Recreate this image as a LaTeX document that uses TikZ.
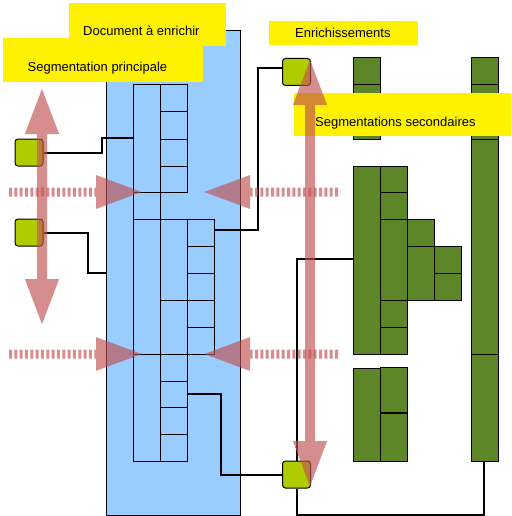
\documentclass[tikz,border=0pt]{standalone}
\usepackage{fontspec}
\setmainfont{Liberation Sans}
\usetikzlibrary{arrows.meta}
\definecolor{docblue}{RGB}{153,204,255}
\definecolor{enrgreen}{RGB}{92,134,40}
\definecolor{handlegreen}{RGB}{176,204,0}
\definecolor{segpink}{RGB}{192,80,80}
\tikzset{seghead/.tip={Triangle[length=47pt,width=31pt]}}

\begin{document}
\begin{tikzpicture}[x=1pt,y=-1pt,
    lbl/.style={fill=yellow,anchor=north west,inner sep=0pt},
    txt/.style={anchor=base west,inner sep=0pt,font=\fontsize{13}{15}\selectfont},
    segarrow/.style={draw=segpink,line width=10pt},
    segdash/.style={draw=segpink,line width=9pt,dash pattern=on 3pt off 2.33pt}]
    \useasboundingbox (0,0) rectangle (511,516);
    % document
    \draw[fill=docblue,line width=1pt] (106,31) rectangle (240,515);
    \begin{scope}[line width=1pt]
    \draw (133,85) rectangle (160,461) (133,192) -- (160,192) (133,219) -- (160,219) (133,354) -- (160,354);
    \draw (160,85) rectangle (187,192) (160,112) -- (187,112) (160,139) -- (187,139) (160,166) -- (187,166);
    \draw (160,219) rectangle (187,461) (160,300) -- (187,300) (160,354) -- (187,354) (160,381) -- (187,381) (160,407) -- (187,407) (160,434) -- (187,434);
    \draw (187,219) rectangle (214,354) (187,246) -- (214,246) (187,273) -- (214,273) (187,300) -- (214,300) (187,327) -- (214,327);
    \end{scope}
    % labels
    \node[lbl,minimum width=157pt,minimum height=43pt] (docbox) at (69,3) {};
    \node[txt] (doc) at (83,36) {Document à enrichir};
    \node[lbl,minimum width=200pt,minimum height=44pt] (segbox) at (3,38) {};
    \node[txt] (seg) at (27.5,72) {Segmentation principale};
    \node[lbl,minimum width=149pt,minimum height=24pt] (enrbox) at (269,21) {};
    \node[txt] (enr) at (295,38) {Enrichissements};
    % enrichissements
    \begin{scope}[fill=enrgreen,line width=1pt]
    \filldraw (353,58) rectangle (380,139) (353,85) -- (380,85);
    \filldraw (471,58) rectangle (498,461) (471,85) -- (498,85) (471,139) -- (498,139) (471,354) -- (498,354);
    \filldraw (353,166) rectangle (380,354);
    \filldraw (380,166) rectangle (407,354) (380,192) -- (407,192) (380,219) -- (407,219) (380,300) -- (407,300) (380,327) -- (407,327);
    \filldraw (407,219) rectangle (434,300) (407,246) -- (434,246);
    \filldraw (434,246) rectangle (461,300) (434,273) -- (461,273);
    \filldraw (353,368) rectangle (380,461);
    \filldraw (380,367) rectangle (407,461);
    \draw[line width=2pt] (380,413) -- (407,413);
    \end{scope}
    \node[lbl,minimum width=217pt,minimum height=43pt] (secbox) at (294,93) {};
    \node[txt] (sec) at (315,126) {Segmentations secondaires};
    % handles
    \begin{scope}[every node/.style={draw,fill=handlegreen,rounded corners=3pt,minimum width=28pt,minimum height=27pt,inner sep=0pt,line width=1pt}]
    \node (h1) at (29,152.5) {};
    \node (h2) at (29,232.5) {};
    \node (h3) at (296.5,72) {};
    \node (h4) at (296.5,474.5) {};
    \end{scope}
    \coordinate (p1) at (133,138);
    \coordinate (p2) at (106,273);
    \coordinate (p3) at (214,230);
    \coordinate (p4) at (187,394);
    \coordinate (q1) at (353,259);
    \coordinate (q2) at (484,461);
    \begin{scope}[line width=2pt]
    \draw (h1.east) -- ++(58,0) |- (p1);
    \draw (h2.east) -- ++(44,0) |- (p2);
    \draw (p3) -- ++(44,0) |- ([yshift=4pt]h3.west);
    \draw (p4) -- ++(34,0) |- (h4.west);
    \draw (q1) -| (h4.north);
    \draw (h4.south) -- ++(0,26) -| (q2);
    \end{scope}
    % segmentations
    \begin{scope}[transparency group,opacity=0.65]
    \draw[segarrow,seghead-seghead] (42,87) -- (42,326);
    \end{scope}
    \begin{scope}[transparency group,opacity=0.65]
    \draw[segarrow,seghead-seghead] (310,58) -- (310,488);
    \end{scope}
    \begin{scope}[transparency group,opacity=0.65]
    \draw[segdash,-seghead] (9,192) -- (143,192);
    \end{scope}
    \begin{scope}[transparency group,opacity=0.65]
    \draw[segdash,-seghead] (338,192) -- (203,192);
    \end{scope}
    \begin{scope}[transparency group,opacity=0.65]
    \draw[segdash,-seghead] (9,354) -- (143,354);
    \end{scope}
    \begin{scope}[transparency group,opacity=0.65]
    \draw[segdash,-seghead] (338,354) -- (203,354);
    \end{scope}
\end{tikzpicture}
\end{document}
